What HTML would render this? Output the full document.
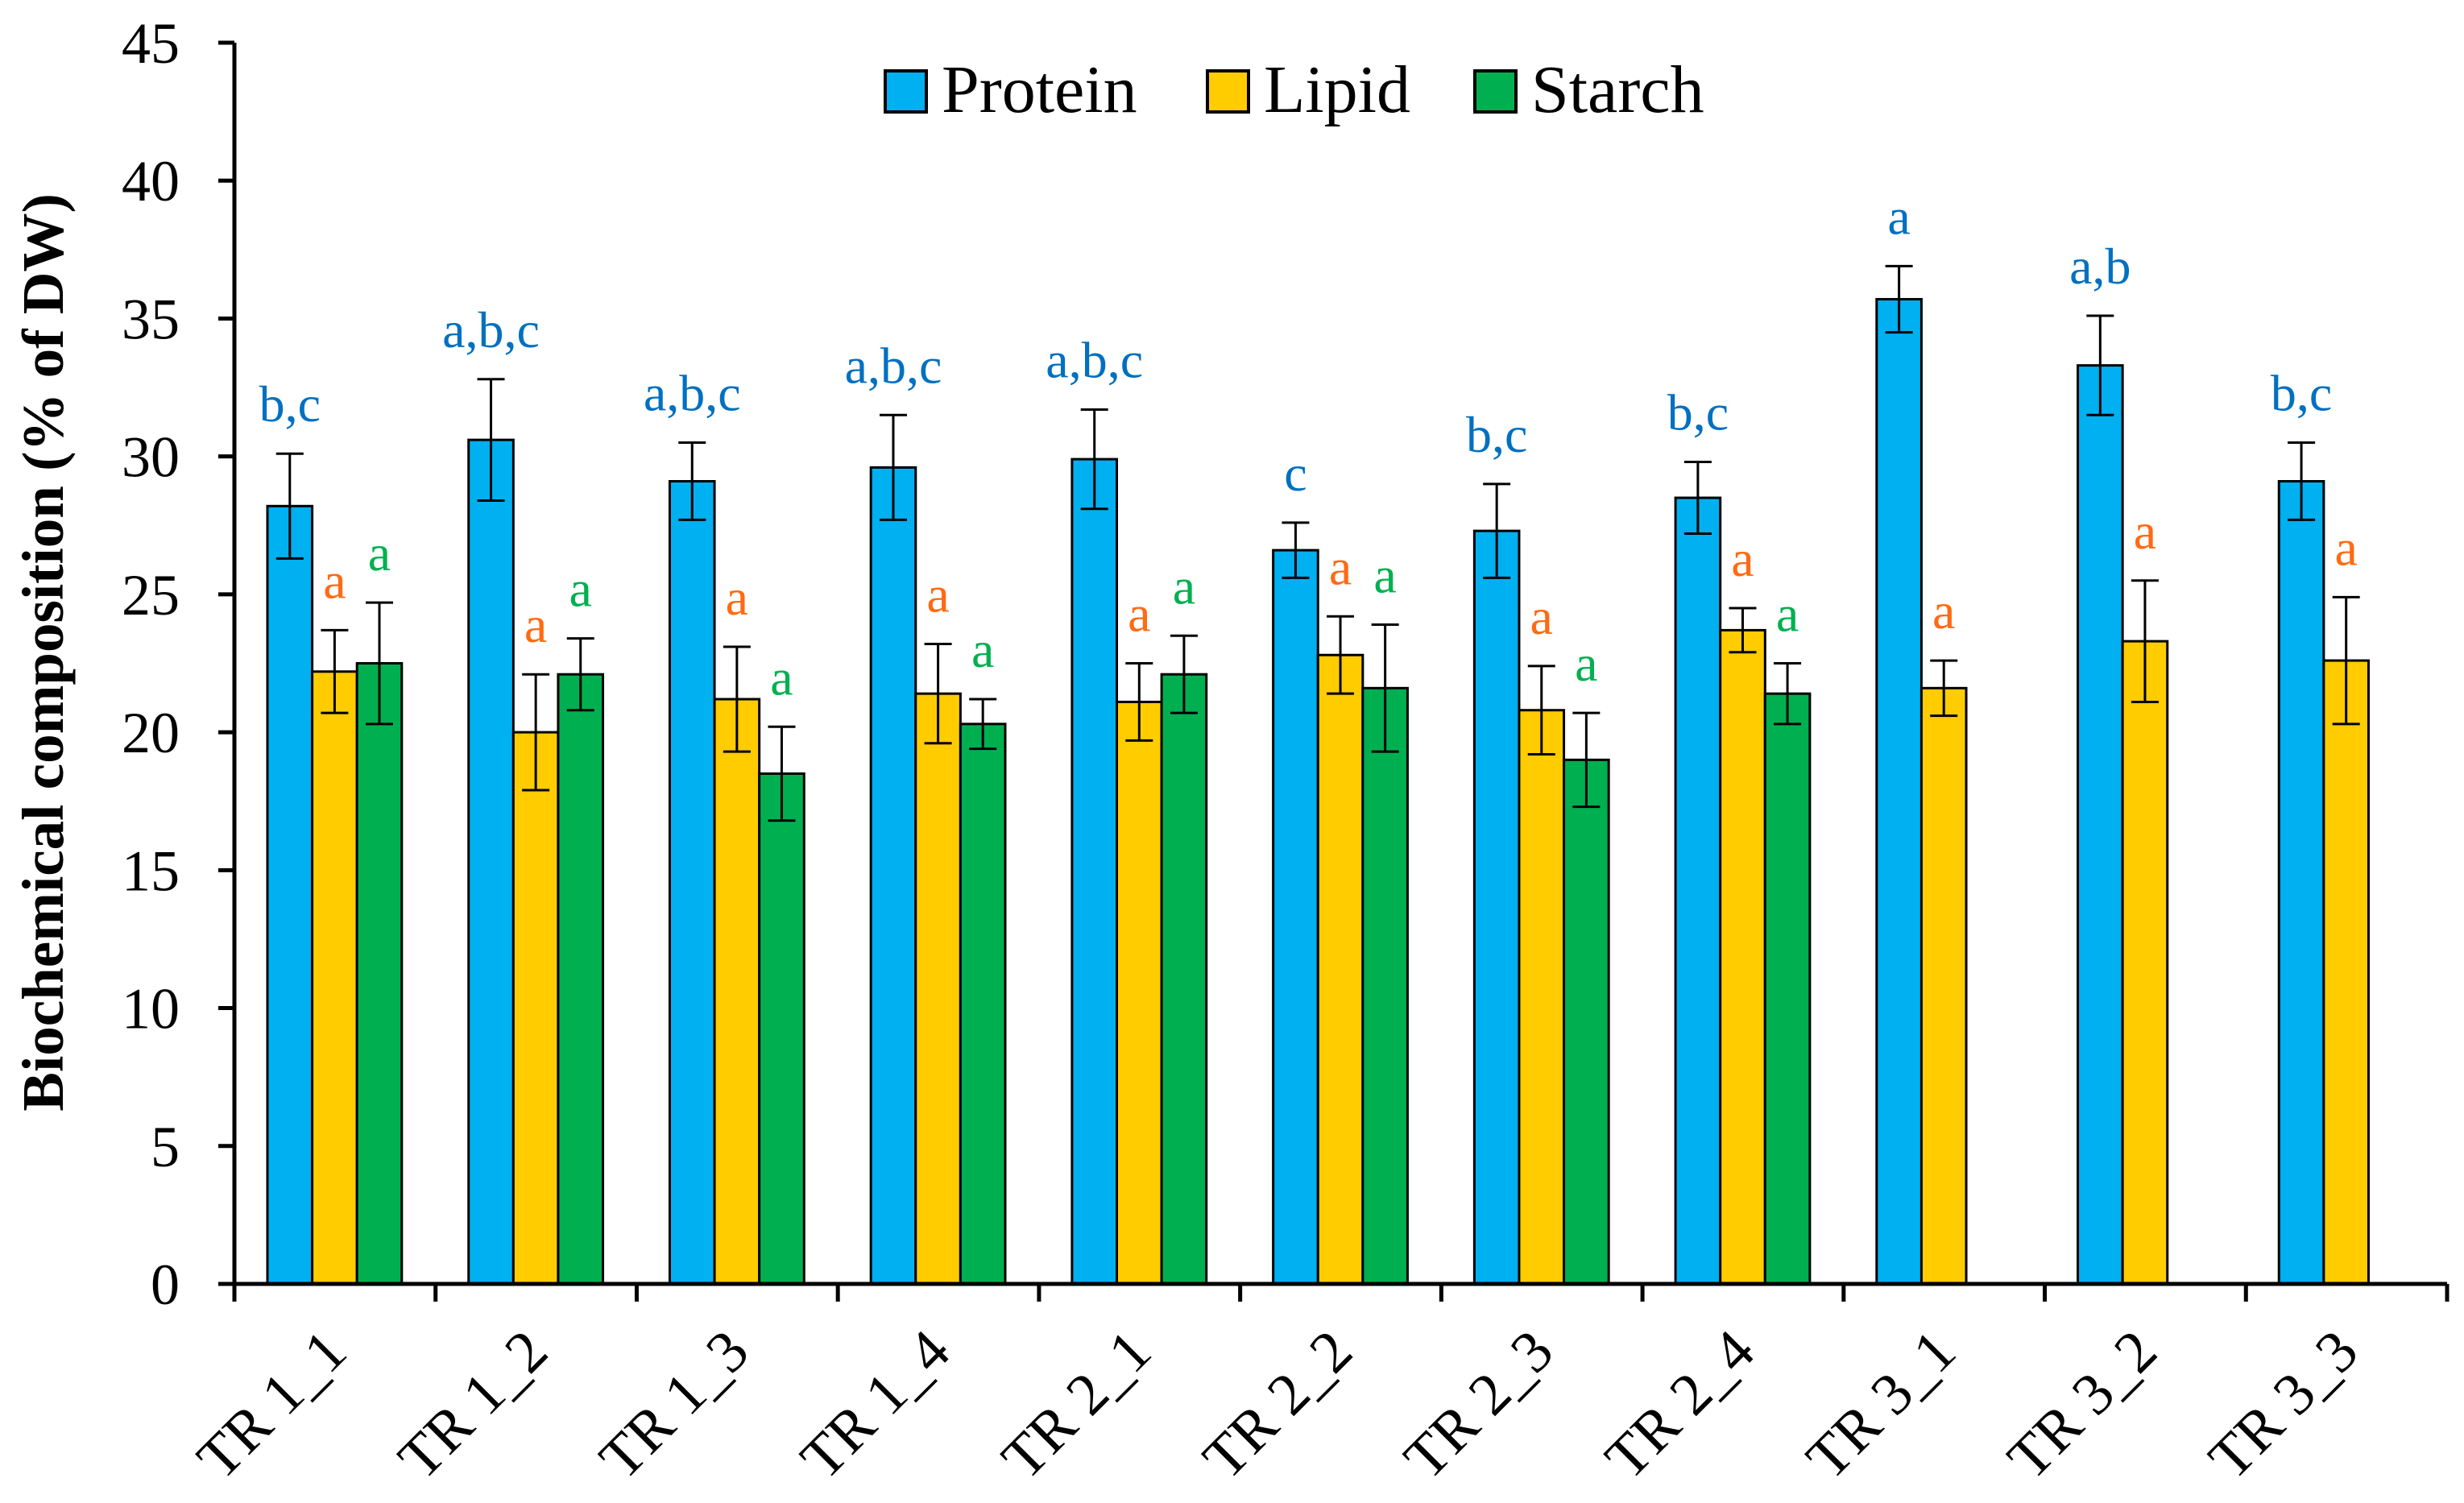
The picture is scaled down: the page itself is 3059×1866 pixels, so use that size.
<!DOCTYPE html>
<html><head><meta charset="utf-8"><style>
html,body{margin:0;padding:0;background:#fff;}
svg{display:block;font-family:"Liberation Serif",serif;}
</style></head><body>
<svg id="chart" width="3059" height="1866" viewBox="0 0 3059 1866" xmlns="http://www.w3.org/2000/svg">
<g id="plot"></g>
</svg>
<script>
const categories = ["TR 1_1","TR 1_2","TR 1_3","TR 1_4","TR 2_1","TR 2_2","TR 2_3","TR 2_4","TR 3_1","TR 3_2","TR 3_3"];
const protein = [28.2,30.6,29.1,29.6,29.9,26.6,27.3,28.5,35.7,33.3,29.1];
const proteinErr = [1.9,2.2,1.4,1.9,1.8,1.0,1.7,1.3,1.2,1.8,1.4];
const lipid = [22.2,20.0,21.2,21.4,21.1,22.8,20.8,23.7,21.6,23.3,22.6];
const lipidErr = [1.5,2.1,1.9,1.8,1.4,1.4,1.6,0.8,1.0,2.2,2.3];
const starch = [22.5,22.1,18.5,20.3,22.1,21.6,19.0,21.4,null,null,null];
const starchErr = [2.2,1.3,1.7,0.9,1.4,2.3,1.7,1.1,null,null,null];
const proteinLetters = ["b,c","a,b,c","a,b,c","a,b,c","a,b,c","c","b,c","b,c","a","a,b","b,c"];
const lipidLetters = ["a","a","a","a","a","a","a","a","a","a","a"];
const starchLetters = ["a","a","a","a","a","a","a","a","","",""];
const yTicks = [0,5,10,15,20,25,30,35,40,45];

const NS="http://www.w3.org/2000/svg";
const g=document.getElementById('plot');
const X0=291, X1=3038, Y0=1594, YT=53, YMAX=45;
const groupW=(X1-X0)/categories.length;
const barW=55.6, barOff=41;
function yScale(v){return Y0-(v/YMAX)*(Y0-YT);}
function xGroup(i){return X0+i*groupW;}
function mk(tag,attrs){const e=document.createElementNS(NS,tag);for(const k in attrs)e.setAttribute(k,attrs[k]);g.appendChild(e);return e;}

const series=[
 {vals:protein,err:proteinErr,letters:proteinLetters,fill:"#00B0F0",lc:"#0070C0",name:"protein"},
 {vals:lipid,err:lipidErr,letters:lipidLetters,fill:"#FFCC00",lc:"#FF6A13",name:"lipid"},
 {vals:starch,err:starchErr,letters:starchLetters,fill:"#00B050",lc:"#00B050",name:"starch"}];

series.forEach((s,si)=>{
 s.vals.forEach((v,i)=>{
  if(v===null)return;
  const x=xGroup(i)+barOff+si*barW;
  const r=mk('rect',{x:x,y:yScale(v),width:barW,height:Y0-yScale(v),fill:s.fill,stroke:"#000","stroke-width":3});
  
  
  const cx=x+barW/2, hi=yScale(v+s.err[i]), lo=yScale(v-s.err[i]);
  const eb=mk('path',{d:`M${cx},${hi}V${lo}M${cx-17},${hi}H${cx+17}M${cx-17},${lo}H${cx+17}`,stroke:"#000","stroke-width":3,fill:"none"});
  
  
  if(s.letters[i]){
   const t=mk('text',{x:cx,y:hi-40,"text-anchor":"middle","font-size":64,fill:s.lc});
   t.textContent=s.letters[i];
   
   
  }
 });
});

// axes
const ya=mk('line',{x1:X0,y1:YT,x2:X0,y2:Y0+2,stroke:"#000","stroke-width":5});


const xa=mk('line',{x1:X0-20,y1:Y0,x2:X1,y2:Y0,stroke:"#000","stroke-width":5});


yTicks.forEach(t=>{
 const y=yScale(t);
 const l=mk('line',{x1:X0-20,y1:y,x2:X0,y2:y,stroke:"#000","stroke-width":5});
 
 
 const tx=mk('text',{x:X0-68,y:y+25,"text-anchor":"end","font-size":72});
 tx.textContent=t;
 
 
});
for(let i=0;i<=categories.length;i++){
 const x=xGroup(i);
 const l=mk('line',{x1:x,y1:Y0,x2:x,y2:Y0+22,stroke:"#000","stroke-width":5});
 
 
}
categories.forEach((c,i)=>{
 const cx=xGroup(i)+groupW/2+18, cy=Y0+88;
 const t=mk('text',{x:cx,y:cy,"text-anchor":"end","font-size":74,transform:`rotate(-45 ${cx} ${cy})`});
 t.textContent=c;
 
 
});
const yt=mk('text',{x:0,y:0,"text-anchor":"middle","font-size":73,"font-weight":"bold",transform:"translate(78,810) rotate(-90)"});
yt.textContent="Biochemical composition (% of DW)";



// legend
const leg=[["Protein","#00B0F0",1099],["Lipid","#FFCC00",1499],["Starch","#00B050",1831]];
leg.forEach(l=>{
 const r=mk('rect',{x:l[2],y:88,width:51,height:51,fill:l[1],stroke:"#000","stroke-width":4});
 
 
 const t=mk('text',{x:l[2]+70,y:139,"font-size":84});
 t.textContent=l[0];
 
 
});
</script>
</body></html>
